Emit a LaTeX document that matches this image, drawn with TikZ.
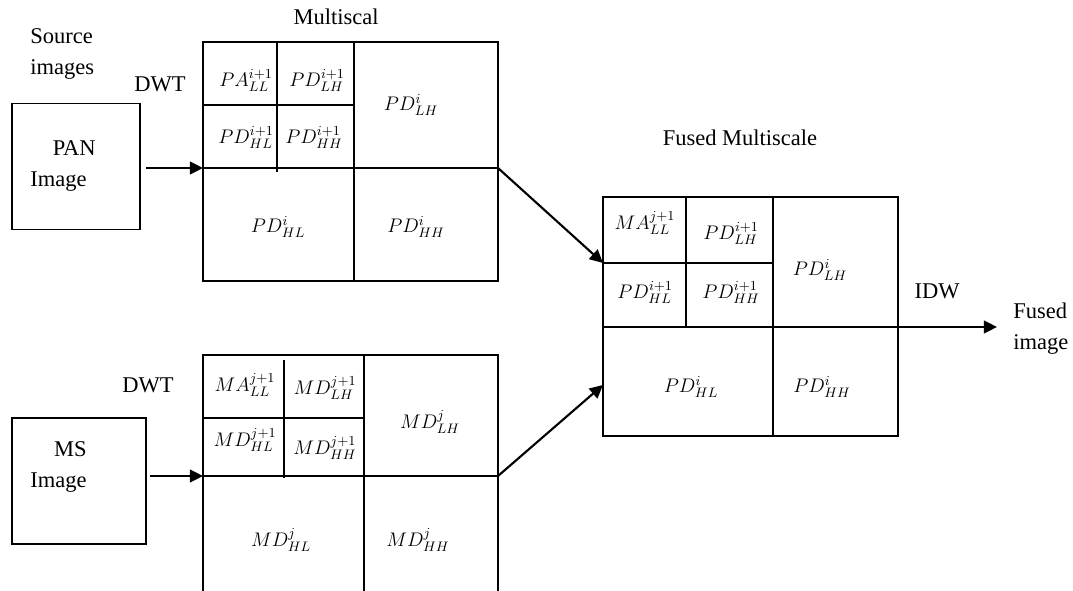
\documentclass[tikz,border=0pt]{standalone}
\usepackage{fix-cm}
\usepackage{fontspec}
\setmainfont{Liberation Serif}
\usetikzlibrary{arrows.meta}
\tikzset{
  cell/.style={line width=1.2pt},
  imgbox/.style={draw, line width=1.2pt, minimum height=3.15cm, inner sep=0pt},
  arr/.style={line width=1.5pt, -{Triangle[length=3.3mm,width=3.2mm]}},
  txt/.style={font=\fontsize{16}{22}\selectfont, inner sep=0pt},
  lab/.style={font=\fontsize{14}{17}\selectfont, inner sep=0pt}
}
\begin{document}
\begin{tikzpicture}[x=0.025cm,y=-0.025cm]
\useasboundingbox (0,0) rectangle (1073,591);
% source images
\node[imgbox, minimum width=3.2cm] (pan) at (76,166.5) {};
\node[imgbox, minimum width=3.35cm] (ms) at (79,481) {};
\node[txt, align=left, anchor=north west] (srctxt) at (30,28) {Source\\images};
\node[txt, align=left, anchor=north west] (pantxt) at (30,140) {\hspace*{16pt}PAN\\Image};
\node[txt, align=left, anchor=north west] (mstxt) at (30,441) {\hspace*{17pt}MS\\Image};
\node[txt, anchor=base] (dwt1) at (160,92) {DWT};
\node[txt, anchor=base] (dwt2) at (148,392) {DWT};
% multiscale PAN
\coordinate (Pin) at (203,168);
\coordinate (Pout) at (498,168);
\draw[cell] (203,42) rectangle (498,281);
\draw[cell] (354,42) -- (354,281) (Pin) -- (Pout);
\draw[cell] (203,105) -- (354,105) (277,42) -- (277,172);
\node[txt, anchor=base] (ms1) at (336,25) {Multiscal};
\node[lab] (p1) at (246,80) {$PA_{LL}^{i+1}$};
\node[lab] (p2) at (317,80) {$PD_{LH}^{i+1}$};
\node[lab] (p3) at (246,137) {$PD_{HL}^{i+1}$};
\node[lab] (p4) at (314,137) {$PD_{HH}^{i+1}$};
\node[lab] (p5) at (411,105) {$PD_{LH}^{i}$};
\node[lab] (p6) at (278,227) {$PD_{HL}^{i}$};
\node[lab] (p7) at (416,227) {$PD_{HH}^{i}$};
% multiscale MS
\coordinate (Min) at (203,476);
\coordinate (Mout) at (498,476);
\draw[cell] (203,591) -- (203,355) -- (498,355) -- (498,591);
\draw[cell] (364,355) -- (364,591) (Min) -- (Mout);
\draw[cell] (203,418) -- (364,418) (284,360) -- (284,478);
\node[lab] (m1) at (245,385) {$MA_{LL}^{j+1}$};
\node[lab] (m2) at (325,388) {$MD_{LH}^{j+1}$};
\node[lab] (m3) at (245,440) {$MD_{HL}^{j+1}$};
\node[lab] (m4) at (325,448) {$MD_{HH}^{j+1}$};
\node[lab] (m5) at (430,422) {$MD_{LH}^{j}$};
\node[lab] (m6) at (281,540) {$MD_{HL}^{j}$};
\node[lab] (m7) at (418,540) {$MD_{HH}^{j}$};
% fused multiscale
\coordinate (Fa) at (603,263);
\coordinate (Fb) at (603,385);
\coordinate (Fout) at (898,327);
\draw[cell] (603,197) rectangle (898,436);
\draw[cell] (773,197) -- (773,436) (603,327) -- (Fout);
\draw[cell] (Fa) -- (773,263) (686,197) -- (686,327);
\node[txt, anchor=base] (fm) at (740,145) {Fused Multiscale};
\node[lab] (f1) at (645,223) {$MA_{LL}^{j+1}$};
\node[lab] (f2) at (731,233) {$PD_{LH}^{i+1}$};
\node[lab] (f3) at (645,292) {$PD_{HL}^{i+1}$};
\node[lab] (f4) at (731,292) {$PD_{HH}^{i+1}$};
\node[lab] (f5) at (820,270) {$PD_{LH}^{i}$};
\node[lab] (f6) at (691,387) {$PD_{HL}^{i}$};
\node[lab] (f7) at (822,387) {$PD_{HH}^{i}$};
\node[txt, anchor=base] (idw) at (937,298) {IDW};
\coordinate (res) at (997,327);
\node[txt, align=left, anchor=north west] (restxt) at (1013,303) {Fused\\image};
% connectors
\draw[arr, shorten <=0.125cm] (pan.east |- Pin) -- (Pin);
\draw[arr, shorten <=0.075cm] (ms.east |- Min) -- (Min);
\draw[arr] (Pout) -- (Fa);
\draw[arr] (Mout) -- (Fb);
\draw[arr] (Fout) -- (res);
\end{tikzpicture}
\end{document}
